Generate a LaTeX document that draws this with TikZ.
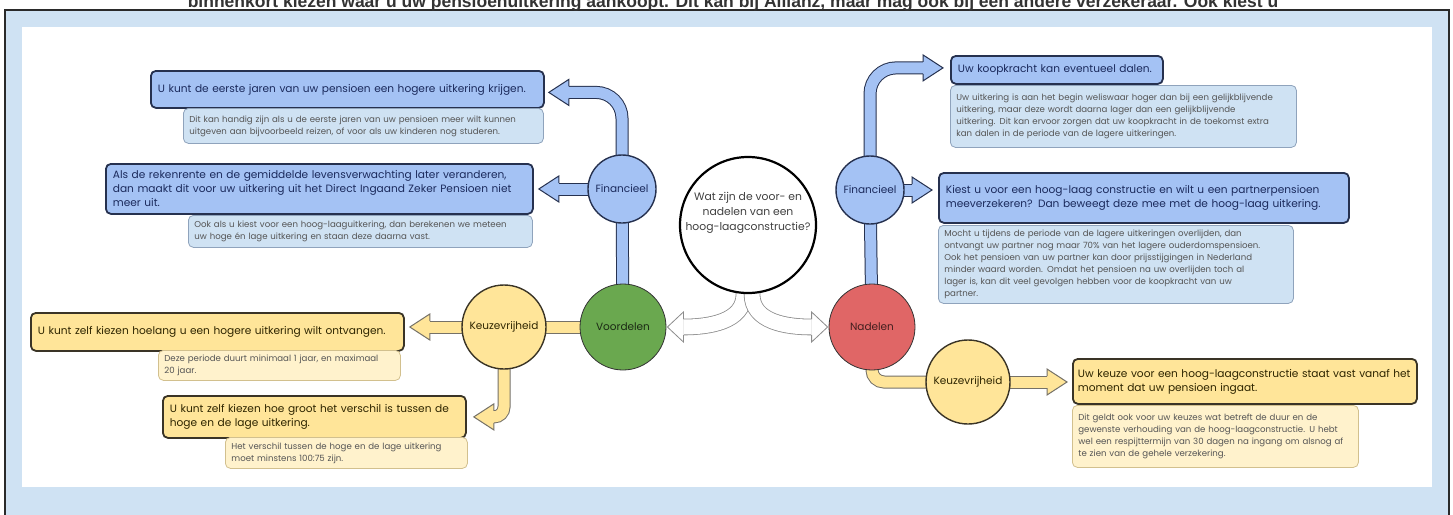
\documentclass[tikz,border=0pt]{standalone}
\usepackage{fontspec}
\setmainfont{Poppins}
\newfontfamily\topfont{Liberation Sans}
\usetikzlibrary{calc}
\definecolor{frameblue}{HTML}{CFE2F3}
\definecolor{framedark}{HTML}{2A2A2A}
\definecolor{bluemain}{HTML}{A4C2F4}
\definecolor{bluesub}{HTML}{CFE2F3}
\definecolor{blueline}{HTML}{26314F}
\definecolor{bluesubline}{HTML}{8FA3BC}
\definecolor{bluetext}{HTML}{1B2A5C}
\definecolor{yelmain}{HTML}{FFE599}
\definecolor{yelsub}{HTML}{FFF2CC}
\definecolor{yelline}{HTML}{3A3426}
\definecolor{yelsubline}{HTML}{D2C08E}
\definecolor{yeltext}{HTML}{2E2500}
\definecolor{subtext}{HTML}{555555}
\definecolor{voorgreen}{HTML}{6AA84F}
\definecolor{nadred}{HTML}{E06666}
\definecolor{wline}{HTML}{8C8C8C}
\pgfdeclarelayer{bg}
\pgfdeclarelayer{conn}
\pgfsetlayers{bg,conn,main}
\tikzset{
  mainbox/.style={rounded corners=5pt, line width=1.8pt, anchor=north west,
    inner xsep=7pt, inner ysep=2pt, align=left,
    font=\fontsize{10.6}{14}\selectfont},
  bluemainbox/.style={mainbox, fill=bluemain, draw=blueline, text=bluetext},
  yelmainbox/.style={mainbox, fill=yelmain, draw=yelline, text=yeltext},
  subbox/.style={rounded corners=5pt, line width=0.8pt, anchor=north west,
    inner xsep=6pt, inner ysep=2pt, align=left, text=subtext,
    font=\fontsize{8.6}{12}\selectfont},
  bluesubbox/.style={subbox, fill=bluesub, draw=bluesubline},
  yelsubbox/.style={subbox, fill=yelsub, draw=yelsubline},
  circ/.style={circle, inner sep=0pt, font=\fontsize{10.5}{12}\selectfont},
  fincirc/.style={circ, minimum size=68pt, fill=bluemain, draw=blueline, line width=1.4pt, text=bluetext},
  keucirc/.style={circ, minimum size=84pt, fill=yelmain, draw=yelline, line width=1.4pt, text=yeltext},
  bshaft/.style={draw=blueline, line width=1pt, double=bluemain, double distance=11pt},
  yshaft/.style={draw=yelline!70, line width=1pt, double=yelmain, double distance=11pt},
  wshaft/.style={draw=wline, line width=0.8pt, double=white, double distance=15pt},
  bluehead/.pic={
    \fill[bluemain] (0,0) -- (-20,-13) -- (-20,13) -- cycle;
    \draw[blueline, line width=1pt, line join=miter] (-20,-6) -- (-20,-13) -- (0,0) -- (-20,13) -- (-20,6);
  },
  yelhead/.pic={
    \fill[yelmain] (0,0) -- (-20,-13) -- (-20,13) -- cycle;
    \draw[yelline!70, line width=1pt, line join=miter] (-20,-6) -- (-20,-13) -- (0,0) -- (-20,13) -- (-20,6);
  },
  whitehead/.pic={
    \fill[white] (0,0) -- (-16,-15) -- (-16,15) -- cycle;
    \draw[wline, line width=0.8pt, line join=miter] (-16,-8) -- (-16,-15) -- (0,0) -- (-16,15) -- (-16,8);
  },
}
\begin{document}
\begin{tikzpicture}[x=1pt,y=-1pt]
\useasboundingbox (0,0) rectangle (1453,514);
\begin{pgfonlayer}{bg}
  \draw[fill=frameblue, draw=framedark, line width=1.5pt] (5,10) rectangle (1449,530);
  \fill[white] (22,27) rectangle (1432,487);
\end{pgfonlayer}

\node[anchor=base, font=\topfont\bfseries\fontsize{17.5}{18}\selectfont, text=black!80, inner sep=0pt] (toptext) at (733,7)
  {binnenkort kiezen waar u uw pensioenuitkering aankoopt. Dit kan bij Allianz, maar mag ook bij een andere verzekeraar. Ook kiest u};

% circles
\node[circle, minimum size=136pt, inner sep=0pt, fill=white, draw=black, line width=2.2pt] (ctr) at (748,225) {};
\node[align=center, text=black!75, font=\fontsize{10.8}{15}\selectfont] (ctrtext) at (748,213)
  {Wat zijn de voor- en\\nadelen van een\\hoog-laagconstructie?};
\node[circ, minimum size=86pt, fill=voorgreen, draw=black!80, line width=0.8pt, text=black!75!voorgreen] (voor) at (623,327) {Voordelen};
\node[circ, minimum size=86pt, fill=nadred, draw=black!80, line width=0.8pt, text=black!70!nadred] (nad) at (872,327) {Nadelen};
\node[fincirc] (finL) at (622,189) {Financieel};
\node[fincirc] (finR) at (870,190) {Financieel};
\node[keucirc] (keuL) at (504,327) {Keuzevrijheid};
\node[keucirc] (keuR) at (968,382) {Keuzevrijheid};

% left boxes
\node[bluemainbox, text width=379pt, minimum height=37pt] (L1m) at (150,70)
  {U kunt de eerste jaren van uw pensioen een hogere uitkering krijgen.};
\node[bluesubbox, text width=348pt, minimum height=35pt] (L1s) at (183,108)
  {Dit kan handig zijn als u de eerste jaren van uw pensioen meer wilt kunnen\\uitgeven aan bijvoorbeeld reizen, of voor als uw kinderen nog studeren.};
\node[bluemainbox, text width=413pt, minimum height=50pt] (L2m) at (105,163)
  {Als de rekenrente en de gemiddelde levensverwachting later veranderen,\\dan maakt dit voor uw uitkering uit het Direct Ingaand Zeker Pensioen niet\\meer uit.};
\node[bluesubbox, text width=332pt, minimum height=32pt] (L2s) at (188,215)
  {Ook als u kiest voor een hoog-laaguitkering, dan berekenen we meteen\\uw hoge én lage uitkering en staan deze daarna vast.};
\node[yelmainbox, text width=359pt, minimum height=38pt] (L3m) at (30,312)
  {U kunt zelf kiezen hoelang u een hogere uitkering wilt ontvangen.};
\node[yelsubbox, text width=230pt, minimum height=30pt] (L3s) at (158,350)
  {Deze periode duurt minimaal 1 jaar, en maximaal\\20 jaar.};
\node[yelmainbox, text width=289pt, minimum height=42pt] (L4m) at (162,395)
  {U kunt zelf kiezen hoe groot het verschil is tussen de\\hoge en de lage uitkering.};
\node[yelsubbox, text width=230pt, minimum height=31pt] (L4s) at (225,437)
  {Het verschil tussen de hoge en de lage uitkering\\moet minstens 100:75 zijn.};

% right boxes
\node[bluemainbox, text width=198pt, minimum height=28pt] (R1m) at (950,55)
  {Uw koopkracht kan eventueel dalen.};
\node[bluesubbox, text width=334pt, minimum height=62pt] (R1s) at (950,85)
  {Uw uitkering is aan het begin weliswaar hoger dan bij een gelijkblijvende\\uitkering, maar deze wordt daarna lager dan een gelijkblijvende\\uitkering. Dit kan ervoor zorgen dat uw koopkracht in de toekomst extra\\kan dalen in de periode van de lagere uitkeringen.};
\node[bluemainbox, text width=396pt, minimum height=50pt] (R2m) at (938,172)
  {Kiest u voor een hoog-laag constructie en wilt u een partnerpensioen\\meeverzekeren? Dan beweegt deze mee met de hoog-laag uitkering.};
\node[bluesubbox, text width=343pt, minimum height=78pt] (R2s) at (938,225)
  {Mocht u tijdens de periode van de lagere uitkeringen overlijden, dan\\ontvangt uw partner nog maar 70\% van het lagere ouderdomspensioen.\\Ook het pensioen van uw partner kan door prijsstijgingen in Nederland\\minder waard worden. Omdat het pensioen na uw overlijden toch al\\lager is, kan dit veel gevolgen hebben voor de koopkracht van uw\\partner.};
\node[yelmainbox, inner xsep=5pt, text width=334pt, minimum height=45pt] (R3m) at (1072,358)
  {Uw keuze voor een hoog-laagconstructie staat vast vanaf het\\moment dat uw pensioen ingaat.};
\node[yelsubbox, text width=274pt, minimum height=62pt] (R3s) at (1072,405)
  {Dit geldt ook voor uw keuzes wat betreft de duur en de\\gewenste verhouding van de hoog-laagconstructie. U hebt\\wel een respijttermijn van 30 dagen na ingang om alsnog af\\te zien van de gehele verzekering.};

\begin{pgfonlayer}{conn}
  % blue left
  \draw[bshaft] (finL.center) -- (voor.center);
  \draw[bshaft, rounded corners=26pt] (finL.center) |- ($(L1m.east)+(24,3)$);
  \pic[rotate=180] at ($(L1m.east)+(4,3)$) {bluehead};
  \draw[bshaft] (finL.center) -- ($(L2m.east |- finL.center)+(25,0)$);
  \pic[rotate=180] at ($(L2m.east |- finL.center)+(5,0)$) {bluehead};
  % blue right
  \draw[bshaft] (finR.center) -- (nad.center);
  \draw[bshaft, rounded corners=26pt] (finR.center) |- ($(R1m.west)+(-27,-2)$);
  \pic at ($(R1m.west)+(-7,-2)$) {bluehead};
  \draw[bshaft] (finR.center) -- ($(R2m.west |- finR.center)+(-26,0)$);
  \pic at ($(R2m.west |- finR.center)+(-6,0)$) {bluehead};
  % yellow left
  \draw[yshaft] (voor.center) -- (keuL.center);
  \draw[yshaft] (keuL.center) -- ($(L3m.east |- keuL.center)+(25,0)$);
  \pic[rotate=180] at ($(L3m.east |- keuL.center)+(5,0)$) {yelhead};
  \draw[yshaft, rounded corners=10pt] (keuL.center) |- ($(L4m.east)+(27,0)$);
  \pic[rotate=180] at ($(L4m.east)+(7,0)$) {yelhead};
  % yellow right
  \draw[yshaft, rounded corners=12pt] (nad.center) |- (keuR.center);
  \draw[yshaft] (keuR.center) -- ($(R3m.west |- keuR.center)+(-25,0)$);
  \pic at ($(R3m.west |- keuR.center)+(-5,0)$) {yelhead};
  % white arrows
  \draw[wshaft] ($(ctr.center)+(-4,40)$) -- ($(ctr.south)+(-4,0)$) .. controls +(0,28) and +(25,0) .. ($(voor.east)+(17,0)$);
  \pic[rotate=180] at ($(voor.east)+(1,0)$) {whitehead};
  \draw[wshaft] ($(ctr.center)+(4,40)$) -- ($(ctr.south)+(4,0)$) .. controls +(0,28) and +(-25,0) .. ($(nad.west)+(-17,0)$);
  \pic at ($(nad.west)+(-1,0)$) {whitehead};
\end{pgfonlayer}
\end{tikzpicture}
\end{document}
